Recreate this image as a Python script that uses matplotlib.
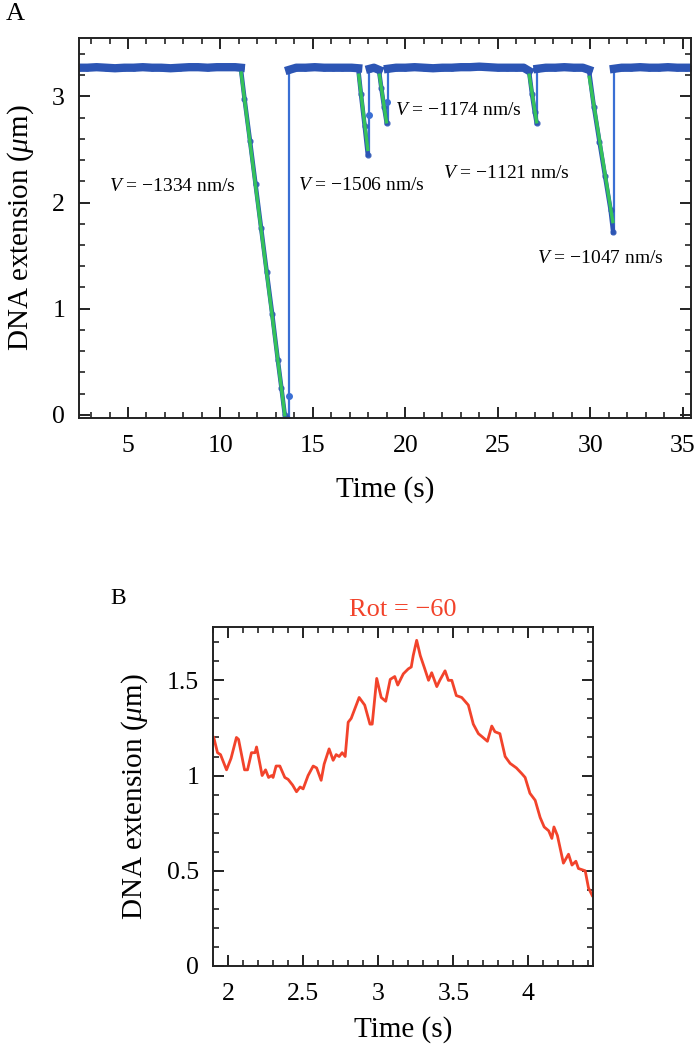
import numpy as np
import matplotlib
matplotlib.use("Agg")
import matplotlib.pyplot as plt
from matplotlib.ticker import MultipleLocator, FuncFormatter

plt.rcParams['font.family'] = ['Liberation Serif', 'DejaVu Serif']
plt.rcParams['mathtext.fontset'] = 'custom'
plt.rcParams['mathtext.rm'] = 'Liberation Serif'
plt.rcParams['mathtext.it'] = 'Liberation Serif:italic'

# ---------------- Panel A data ----------------
# blue trace segments (plateau + descent), separated by NaN at each fast return
trace_t = [2.35, 2.8, 3.3, 3.8, 4.3, 4.8, 5.3, 5.8, 6.3, 6.8, 7.3, 7.8, 8.3, 8.8, 9.3, 9.8, 10.3, 10.8, 11.1,
           11.3, 11.6, 11.9, 12.2, 12.5, 12.8, 13.1, 13.3, 13.48, 13.6, np.nan,
           13.72, 14.1, 14.6, 15.1, 15.6, 16.1, 16.6, 17.1, 17.45,
           17.6, 17.8, 17.97, np.nan,
           18.08, 18.3, 18.57, 18.7, 18.85, 18.99, np.nan,
           19.06, 19.5, 20.0, 20.5, 21.0, 21.5, 22.0, 22.5, 23.0, 23.5, 24.0, 24.5, 25.0, 25.5, 26.0, 26.4, 26.69,
           26.85, 27.0, 27.1, np.nan,
           27.15, 27.6, 28.1, 28.6, 29.1, 29.6, 29.93,
           30.2, 30.5, 30.8, 31.1, 31.24, np.nan,
           31.28, 31.7, 32.2, 32.7, 33.2, 33.7, 34.2, 34.7, 35.2, 35.45]
trace_ext = [3.27, 3.27, 3.275, 3.27, 3.265, 3.27, 3.27, 3.275, 3.27, 3.27, 3.265, 3.27, 3.275, 3.275, 3.27, 3.275, 3.275, 3.275, 3.27,
             2.98, 2.58, 2.17, 1.76, 1.35, 0.95, 0.52, 0.25, 0.0, -0.03, np.nan,
             3.25, 3.27, 3.27, 3.275, 3.27, 3.27, 3.27, 3.27, 3.265,
             3.02, 2.72, 2.45, np.nan,
             3.26, 3.27, 3.25, 3.08, 2.90, 2.75, np.nan,
             3.26, 3.27, 3.27, 3.275, 3.27, 3.265, 3.27, 3.27, 3.275, 3.275, 3.28, 3.275, 3.27, 3.27, 3.27, 3.27, 3.24,
             3.02, 2.85, 2.75, np.nan,
             3.26, 3.27, 3.27, 3.275, 3.27, 3.27, 3.25,
             2.90, 2.57, 2.25, 1.93, 1.72, np.nan,
             3.26, 3.27, 3.27, 3.275, 3.27, 3.27, 3.275, 3.27, 3.27, 3.27]

# fast returns (vertical jumps)
jump_t = [13.70, 18.05, 19.04, 27.13, 31.26]
jump_lo = [-0.03, 2.45, 2.75, 2.75, 1.72]
jump_hi = [3.25, 3.26, 3.26, 3.26, 3.26]
jump_pt_t = [13.70, 18.05, 19.03]
jump_pt_v = [0.18, 2.82, 2.95]

# linear fits (green)
fit_t0 = [11.12, 17.48, 18.60, 26.70, 29.95]
fit_v0 = [3.22, 3.20, 3.20, 3.20, 3.18]
fit_t1 = [13.48, 17.97, 18.98, 27.10, 31.22]
fit_v1 = [0.00, 2.50, 2.76, 2.76, 1.82]

vel_labels = ["\u22121334", "\u22121506", "\u22121174", "\u22121121", "\u22121047"]
lab_t = [3.95, 14.2, 19.44, 22.05, 27.1]
lab_v = [2.15, 2.16, 2.87, 2.27, 1.47]

# ---------------- Panel B data ----------------
b_t = [1.905, 1.93, 1.95, 1.99, 2.02, 2.056, 2.07, 2.11, 2.13, 2.156, 2.18, 2.19, 2.215, 2.227, 2.25, 2.27, 2.29,
       2.30, 2.32, 2.345, 2.378, 2.40, 2.43, 2.456, 2.48, 2.50, 2.533, 2.567, 2.59, 2.62, 2.64, 2.673, 2.70, 2.72,
       2.74, 2.76, 2.78, 2.80, 2.82, 2.873, 2.91, 2.945, 2.96, 2.99, 3.02, 3.05, 3.08, 3.11, 3.13, 3.167, 3.20,
       3.22, 3.233, 3.256, 3.28, 3.31, 3.335, 3.356, 3.39, 3.41, 3.445, 3.467, 3.49, 3.52, 3.556, 3.578, 3.60,
       3.633, 3.667, 3.69, 3.727, 3.756, 3.777, 3.81, 3.845, 3.878, 3.92, 3.956, 3.978, 4.01, 4.045, 4.078, 4.105,
       4.135, 4.156, 4.17, 4.193, 4.233, 4.267, 4.29, 4.316, 4.333, 4.378, 4.40, 4.425]
b_ext = [1.20, 1.12, 1.11, 1.03, 1.09, 1.20, 1.19, 1.03, 1.03, 1.12, 1.12, 1.15, 1.05, 1.00, 1.03, 0.99, 1.00,
         0.99, 1.05, 1.05, 0.99, 0.98, 0.95, 0.915, 0.94, 0.93, 1.00, 1.05, 1.04, 0.975, 1.06, 1.14, 1.08, 1.11,
         1.10, 1.12, 1.10, 1.28, 1.30, 1.41, 1.37, 1.27, 1.27, 1.51, 1.41, 1.39, 1.505, 1.52, 1.475, 1.534, 1.56,
         1.57, 1.63, 1.71, 1.63, 1.56, 1.50, 1.54, 1.467, 1.50, 1.55, 1.50, 1.50, 1.42, 1.41, 1.39, 1.37,
         1.27, 1.22, 1.205, 1.18, 1.26, 1.23, 1.22, 1.10, 1.064, 1.04, 1.01, 0.99, 0.907, 0.87, 0.78, 0.73,
         0.71, 0.67, 0.73, 0.685, 0.54, 0.587, 0.53, 0.55, 0.512, 0.50, 0.41, 0.37]

BLUE = '#2c55b4'
BLUE_LINE = '#3a6fd4'
GREEN = '#35c25a'
RED = '#f2432b'

fig = plt.figure(figsize=(6.96, 10.5), dpi=100)

def style_axes(ax):
    for s in ax.spines.values():
        s.set_linewidth(1.4)
        s.set_color('#222222')
    ax.tick_params(which='both', direction='in', top=True, right=True, colors='#222222', labelsize=18.5,
                   labelcolor='black')
    ax.tick_params(axis='x', which='major', pad=12)
    ax.tick_params(axis='y', which='major', pad=10)
    ax.tick_params(which='major', length=8, width=1.4)
    ax.tick_params(which='minor', length=4, width=1.2)
    ax.xaxis.set_major_formatter(FuncFormatter(lambda v, p: '{:g}'.format(v)))
    ax.yaxis.set_major_formatter(FuncFormatter(lambda v, p: '{:g}'.format(v)))

# ---------- Panel A ----------
axA = fig.add_axes([79/696, 1 - 418/1050, (691-79)/696, (418-38)/1050])
tt = np.array(trace_t, dtype=float)
ee = np.array(trace_ext, dtype=float)
plateau = np.where(ee > 3.15, ee, np.nan)
axA.plot(tt, ee, color=BLUE, lw=3.2, zorder=2)
axA.plot(tt, plateau, color=BLUE, lw=6, zorder=2)
axA.plot(tt, ee, 'o', color=BLUE, ms=3.5, alpha=0.8, zorder=2)
axA.vlines(jump_t, jump_lo, jump_hi, color=BLUE_LINE, lw=1.6, zorder=1)
axA.plot(jump_pt_t, jump_pt_v, 'o', color=BLUE_LINE, ms=4, zorder=2)
for t0, v0, t1, v1 in zip(fit_t0, fit_v0, fit_t1, fit_v1):
    axA.plot([t0, t1], [v0, v1], color=GREEN, lw=2.4, zorder=3)
for lab, x, y in zip(vel_labels, lab_t, lab_v):
    axA.text(x, y, '$V$ = ' + lab + ' nm/s', fontsize=14, ha='left', va='center')

axA.set_xlim(2.35, 35.45)
axA.set_ylim(-0.03, 3.55)
axA.xaxis.set_major_locator(MultipleLocator(5))
axA.xaxis.set_minor_locator(MultipleLocator(1))
axA.yaxis.set_major_locator(MultipleLocator(1))
axA.yaxis.set_minor_locator(MultipleLocator(0.2))
style_axes(axA)
axA.set_xlabel('Time (s)', fontsize=21, labelpad=14)
axA.set_ylabel('DNA extension ($\\mu$m)', fontsize=21, labelpad=12)
fig.text(0.008, 0.997, 'A', fontsize=19, ha='left', va='top')

# ---------- Panel B ----------
axB = fig.add_axes([213/696, 1 - 966/1050, (593-213)/696, (966-627)/1050])
axB.plot(b_t, b_ext, color=RED, lw=2.0)
axB.set_xlim(1.9, 4.43)
axB.set_ylim(0, 1.78)
axB.xaxis.set_major_locator(MultipleLocator(0.5))
axB.xaxis.set_minor_locator(MultipleLocator(0.1))
axB.yaxis.set_major_locator(MultipleLocator(0.5))
axB.yaxis.set_minor_locator(MultipleLocator(0.1))
style_axes(axB)
axB.set_xlabel('Time (s)', fontsize=21, labelpad=8)
axB.set_ylabel('DNA extension ($\\mu$m)', fontsize=21, labelpad=12)
axB.set_title('Rot = \u221260', color=RED, fontsize=19, pad=8)
fig.text(110/696, 1 - 588/1050, 'B', fontsize=17, ha='left', va='top')

fig.savefig('out.png', dpi=100)
